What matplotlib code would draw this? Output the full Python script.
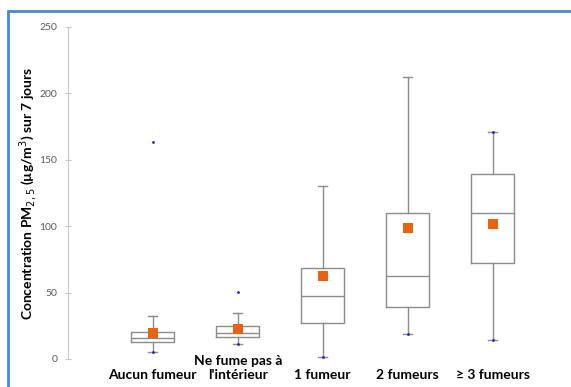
import numpy as np
import matplotlib
matplotlib.use("Agg")
import matplotlib.pyplot as plt
from matplotlib.patches import Rectangle

# values (µg/m3)
categories = ["Aucun fumeur", "Ne fume pas à\nl'intérieur", "1 fumeur", "2 fumeurs", "≥ 3 fumeurs"]
whis_low = [5.5, 11.6, 1.3, 18.6, 14.6]
q1 = [12.5, 16.4, 27.0, 38.8, 72.5]
medians = [15.8, 19.4, 47.4, 62.5, 110.3]
q3 = [20.4, 24.7, 68.5, 110.3, 139.0]
whis_high = [32.5, 35.0, 130.4, 212.5, 170.9]
means = [19.4, 22.7, 62.5, 98.9, 101.4]
# blue points (outliers and marked extremes)
blue_pts = [[5.5, 163.5], [11.6, 50.3], [1.3], [18.6], [14.6, 170.9]]
yticks = [0, 50, 100, 150, 200, 250]

plt.rcParams['font.family'] = ['Lato', 'DejaVu Sans']

W, H = 571, 387
fig = plt.figure(figsize=(W / 100, H / 100), dpi=100)
ax = fig.add_axes([67.7 / W, (H - 359) / H, 1 - 67.7 / W, 332 / H])

stats = []
for i in range(len(categories)):
    stats.append(dict(whislo=whis_low[i], q1=q1[i], med=medians[i], q3=q3[i],
                      whishi=whis_high[i], fliers=[]))

pos = np.arange(1, len(categories) + 1)
grey = "#8c8c8c"
ax.bxp(stats, positions=pos, widths=0.5, capwidths=0.1, showfliers=False,
       boxprops=dict(color=grey, lw=1.0),
       medianprops=dict(color=grey, lw=1.0),
       whiskerprops=dict(color=grey, lw=1.0),
       capprops=dict(color=grey, lw=1.0))

for p, pts in zip(pos, blue_pts):
    ax.plot([p] * len(pts), pts, "o", color="#1f1fd0", ms=2.0, mew=0, zorder=4)

ax.plot(pos, means, "s", color="#e8620f", ms=7, mew=0, zorder=5)

ax.set_xlim(0, (W - 67.7) / 85)
ax.set_ylim(0, 250)
ax.set_yticks(yticks)
ax.tick_params(axis='y', direction='inout', length=5, width=0.8, color="#c8c8c8",
               labelsize=7.5, labelcolor="#595959", pad=5)

ax.set_xticks(pos)
ax.set_xticklabels(categories, fontsize=10, fontweight='bold')
ax.tick_params(axis='x', length=0, pad=16)
for lab in ax.get_xticklabels():
    lab.set_verticalalignment('bottom')
    lab.set_linespacing(1.25)

for s in ["top", "right", "bottom"]:
    ax.spines[s].set_visible(False)
ax.spines["left"].set_color("#c8c8c8")
ax.spines["left"].set_linewidth(0.8)

ax.set_ylabel("Concentration PM$_{2,5}$ (µg/m$^3$) sur 7 jours", fontsize=10,
              fontweight='bold')
ax.yaxis.set_label_coords((39 - 67.7) / (W - 67.7), 0.5)

# blue frame (only top and left edges visible in the crop)
fig.patches.append(Rectangle((8 / W, -0.1), 1.2, (H - 11) / H + 0.1, transform=fig.transFigure,
                             fill=False, ec="#4a86d4", lw=2.0, clip_on=False))

fig.savefig("out.png", dpi=100)
